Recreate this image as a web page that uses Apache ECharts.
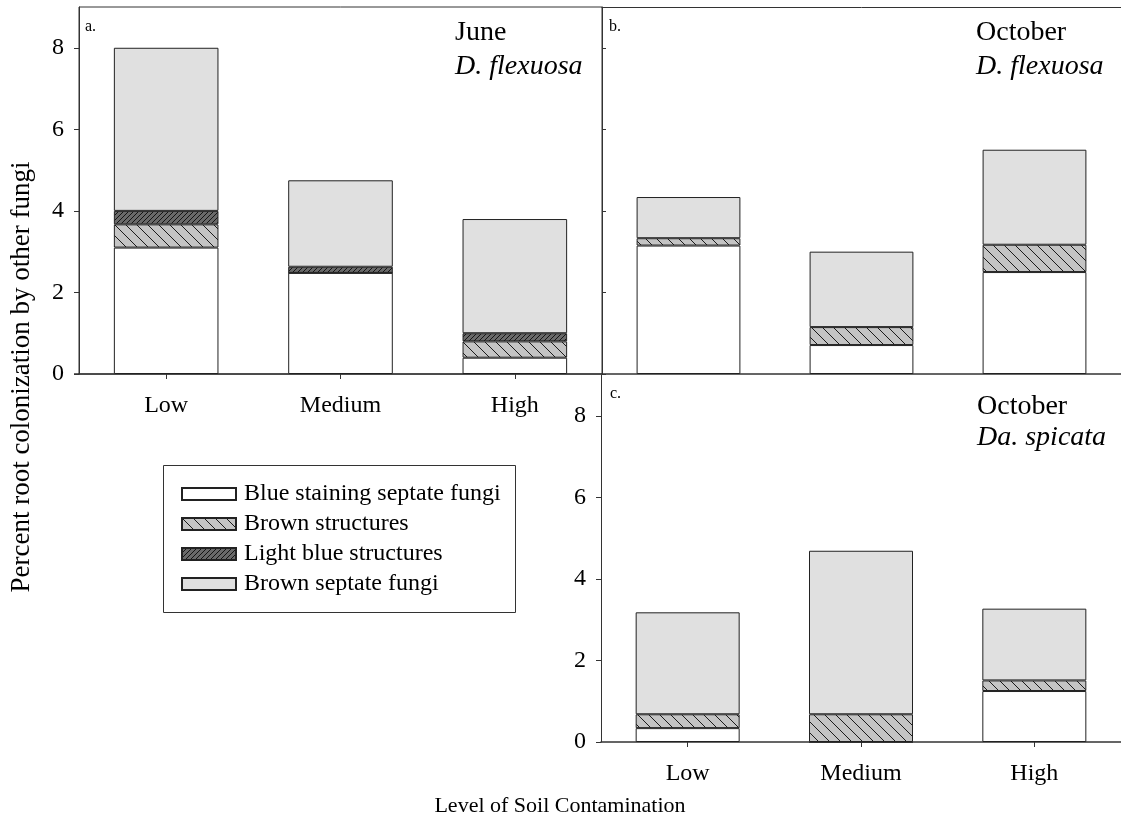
<!DOCTYPE html>
<html>
<head>
<meta charset="utf-8">
<script src="https://cdn.jsdelivr.net/npm/echarts@6/dist/echarts.min.js"></script>
<style>html,body{margin:0;padding:0;background:#fff;overflow:hidden}#c{width:1121px;height:825px}</style>
</head>
<body>
<div id="c"></div>
<script>
// ---- data ----
var categories = ['Low', 'Medium', 'High'];
var yTicks = [0, 2, 4, 6, 8];
var seriesNames = ['Blue staining septate fungi', 'Brown structures', 'Light blue structures', 'Brown septate fungi'];

// Panel a: June, D. flexuosa
var juneFlexBlue = [3.10, 2.48, 0.40];
var juneFlexBrownStruct = [0.57, 0.00, 0.40];
var juneFlexLightBlue = [0.33, 0.15, 0.20];
var juneFlexBrownSeptate = [4.00, 2.12, 2.80];

// Panel b: October, D. flexuosa
var octFlexBlue = [3.15, 0.71, 2.50];
var octFlexBrownStruct = [0.18, 0.44, 0.67];
var octFlexBrownSeptate = [1.01, 1.85, 2.33];

// Panel c: October, Da. spicata
var octSpicBlue = [0.34, 0.00, 1.25];
var octSpicBrownStruct = [0.34, 0.68, 0.26];
var octSpicBrownSeptate = [2.50, 4.01, 1.76];

// ---- patterns ----
function hatch(bg, fg, p, dir) {
  var c = document.createElement('canvas');
  c.width = p; c.height = p;
  var g = c.getContext('2d');
  g.fillStyle = bg; g.fillRect(0, 0, p, p);
  g.strokeStyle = fg; g.lineWidth = 1;
  g.beginPath();
  if (dir === 'back') {
    g.moveTo(-1, -1); g.lineTo(p + 1, p + 1);
    g.moveTo(-1, p - 1); g.lineTo(1, p + 1);
    g.moveTo(p - 1, -1); g.lineTo(p + 1, 1);
  } else {
    g.moveTo(-1, p + 1); g.lineTo(p + 1, -1);
    g.moveTo(-1, 1); g.lineTo(1, -1);
    g.moveTo(p - 1, p + 1); g.lineTo(p + 1, p - 1);
  }
  g.stroke();
  return { image: c, repeat: 'repeat' };
}
var colWhite = '#ffffff';
var colBrownStruct = hatch('#c4c4c4', '#1a1a1a', 11, 'back');
var colLightBlue = hatch('#6a6a6a', '#151515', 5, 'fwd');
var colBrownSeptate = '#e0e0e0';
var fills = [colWhite, colBrownStruct, colLightBlue, colBrownSeptate];

var FONT = 'Liberation Serif';
var border = { borderColor: '#222', borderWidth: 1 };

function bar(name, data, idx, stack, fill) {
  return {
    type: 'bar', name: name, data: data, stack: stack,
    xAxisIndex: idx, yAxisIndex: idx, barWidth: '60%',
    itemStyle: Object.assign({ color: fill }, border),
    emphasis: { disabled: true }, animation: false
  };
}

function xAx(idx, showLabels) {
  return {
    type: 'category', data: categories, gridIndex: idx,
    axisLine: { show: true, lineStyle: { color: '#333', width: 1.5 } },
    axisTick: { show: showLabels, alignWithLabel: true, length: 5, lineStyle: { color: '#333' } },
    axisLabel: { show: showLabels, fontFamily: FONT, fontSize: 24, color: '#000', margin: 20 },
    splitLine: { show: false }
  };
}
function yAx(idx, showLabels) {
  return {
    type: 'value', gridIndex: idx, min: 0, max: 9, interval: 1,
    axisLine: { show: true, lineStyle: { color: '#333', width: 1 } },
    axisTick: { show: true, inside: !showLabels, length: showLabels ? 5 : 4, customValues: yTicks, lineStyle: { color: '#333' } },
    axisLabel: { show: showLabels, fontFamily: FONT, fontSize: 24, color: '#000', margin: 15, customValues: yTicks },
    splitLine: { show: false }
  };
}
// top frame line of panel b (axis line only)
var topFrameB = {
  type: 'category', data: categories, gridIndex: 1, position: 'top',
  axisLine: { show: true, lineStyle: { color: '#333', width: 1 } },
  axisTick: { show: false }, axisLabel: { show: false }, splitLine: { show: false }
};

var option = {
  animation: false,
  grid: [
    { left: 79, top: 7, width: 523, height: 367, show: true, borderColor: '#333', borderWidth: 1, backgroundColor: 'transparent' },
    { left: 602, top: 7, width: 522, height: 367 },
    { left: 601, top: 375, width: 523, height: 367 }
  ],
  xAxis: [xAx(0, true), xAx(1, false), xAx(2, true), topFrameB],
  yAxis: [yAx(0, true), yAx(1, false), yAx(2, true)],
  legend: {
    orient: 'vertical', left: 176, top: 477,
    itemWidth: 54, itemHeight: 12, itemGap: 6,
    icon: 'rect', selectedMode: false,
    data: seriesNames,
    textStyle: { fontFamily: FONT, fontSize: 24, color: '#000', lineHeight: 24, padding: [0, 0, 0, 3] }
  },
  series: [
    bar(seriesNames[0], juneFlexBlue, 0, 'a', fills[0]),
    bar(seriesNames[1], juneFlexBrownStruct, 0, 'a', fills[1]),
    bar(seriesNames[2], juneFlexLightBlue, 0, 'a', fills[2]),
    bar(seriesNames[3], juneFlexBrownSeptate, 0, 'a', fills[3]),
    bar(seriesNames[0], octFlexBlue, 1, 'b', fills[0]),
    bar(seriesNames[1], octFlexBrownStruct, 1, 'b', fills[1]),
    bar(seriesNames[3], octFlexBrownSeptate, 1, 'b', fills[3]),
    bar(seriesNames[0], octSpicBlue, 2, 'c', fills[0]),
    bar(seriesNames[1], octSpicBrownStruct, 2, 'c', fills[1]),
    bar(seriesNames[3], octSpicBrownSeptate, 2, 'c', fills[3])
  ],
  graphic: [
    { type: 'rect', shape: { x: 163.5, y: 465.5, width: 352, height: 147 }, style: { fill: 'none', stroke: '#333', lineWidth: 1 }, z: 0 },
    { type: 'line', shape: { x1: 74, y1: 374, x2: 79, y2: 374 }, style: { stroke: '#333', lineWidth: 1.5 } },
    { type: 'text', x: 22, y: 377, rotation: Math.PI / 2, style: { text: 'Percent root colonization by other fungi', font: '27px "Liberation Serif"', fill: '#000', textAlign: 'center', textVerticalAlign: 'middle' } },
    { type: 'text', x: 560, y: 806, style: { text: 'Level of Soil Contamination', font: '22px "Liberation Serif"', fill: '#000', textAlign: 'center', textVerticalAlign: 'middle' } },
    { type: 'text', x: 85, y: 27, style: { text: 'a.', font: '16px "Liberation Serif"', fill: '#000', textVerticalAlign: 'middle' } },
    { type: 'text', x: 609, y: 27, style: { text: 'b.', font: '16px "Liberation Serif"', fill: '#000', textVerticalAlign: 'middle' } },
    { type: 'text', x: 610, y: 394, style: { text: 'c.', font: '16px "Liberation Serif"', fill: '#000', textVerticalAlign: 'middle' } },
    { type: 'text', x: 455, y: 33, style: { text: 'June', font: '28px "Liberation Serif"', fill: '#000', textVerticalAlign: 'middle' } },
    { type: 'text', x: 455, y: 67, style: { text: 'D. flexuosa', font: 'italic 28px "Liberation Serif"', fill: '#000', textVerticalAlign: 'middle' } },
    { type: 'text', x: 976, y: 33, style: { text: 'October', font: '28px "Liberation Serif"', fill: '#000', textVerticalAlign: 'middle' } },
    { type: 'text', x: 976, y: 67, style: { text: 'D. flexuosa', font: 'italic 28px "Liberation Serif"', fill: '#000', textVerticalAlign: 'middle' } },
    { type: 'text', x: 977, y: 407, style: { text: 'October', font: '28px "Liberation Serif"', fill: '#000', textVerticalAlign: 'middle' } },
    { type: 'text', x: 977, y: 438, style: { text: 'Da. spicata', font: 'italic 28px "Liberation Serif"', fill: '#000', textVerticalAlign: 'middle' } }
  ]
};
var chart = echarts.init(document.getElementById('c'), null, { renderer: 'canvas' });
chart.setOption(option);
</script>
</body>
</html>
